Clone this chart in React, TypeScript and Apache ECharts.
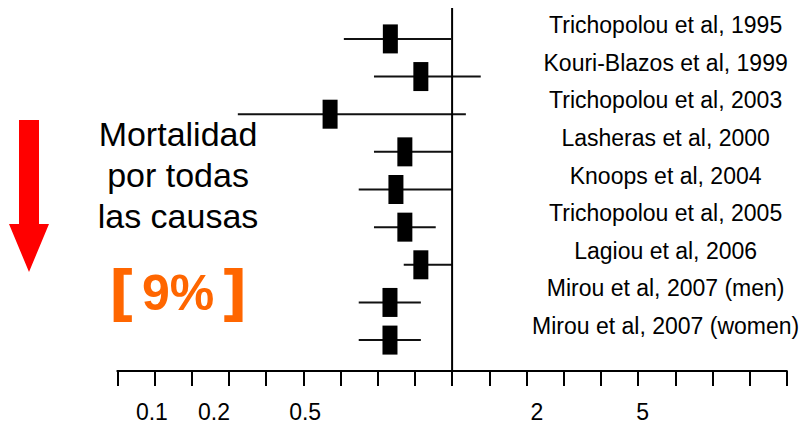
import React, { useEffect, useRef } from 'react';
import * as echarts from 'echarts';

// Studies (top to bottom)
const studies = [
  'Trichopolou et al, 1995',
  'Kouri-Blazos et al, 1999',
  'Trichopolou et al, 2003',
  'Lasheras et al, 2000',
  'Knoops et al, 2004',
  'Trichopolou et al, 2005',
  'Lagiou et al, 2006',
  'Mirou et al, 2007 (men)',
  'Mirou et al, 2007 (women)',
];
// Values expressed in the drawing's axis units (one unit per tick, 19 ticks, RR = 1 at 9)
const estimate = [7.34, 8.16, 5.72, 7.73, 7.49, 7.73, 8.16, 7.33, 7.33];
const lower = [6.09, 6.9, 3.24, 6.9, 6.49, 6.9, 7.7, 6.49, 6.49];
const upper = [8.97, 9.77, 9.37, 9.0, 9.0, 8.56, 9.0, 8.16, 8.16];
const nullValue = 9;
const tickLabels = ['0.1', '0.2', '0.5', '2', '5'];
const tickLabelPositions = [0.93, 2.6, 5.05, 11.28, 14.12];

const Y_MIN = -0.821;
const Y_MAX = 8.821;
const NAME_X = 14.74;

export default function App() {
  const ref = useRef<HTMLDivElement>(null);
  useEffect(() => {
    const chart = echarts.init(ref.current!, null, { renderer: 'svg' });
    const rows = studies.map((_, i) => [lower[i], upper[i], estimate[i], i]);

    const renderItem = (params: any, api: any) => {
      const row = api.value(3);
      const lo = api.coord([api.value(0), row]);
      const hi = api.coord([api.value(1), row]);
      const est = api.coord([api.value(2), row]);
      const nm = api.coord([NAME_X, row]);
      return {
        type: 'group',
        children: [
          {
            type: 'line',
            shape: { x1: lo[0], y1: lo[1], x2: hi[0], y2: hi[1] },
            style: { stroke: '#111', lineWidth: 2 },
          },
          {
            type: 'rect',
            shape: { x: est[0] - 7.5, y: est[1] - 14.5, width: 15, height: 29 },
            style: { fill: '#000' },
          },
          {
            type: 'text',
            style: {
              text: studies[params.dataIndex],
              x: nm[0],
              y: nm[1] - 14,
              align: 'center',
              verticalAlign: 'middle',
              fontSize: 23,
              fontFamily: 'Liberation Sans',
              fill: '#000',
            },
          },
        ],
      };
    };

    chart.setOption({
      animation: false,
      grid: { left: 117.3, right: 18.1, top: 8, bottom: 51 },
      xAxis: {
        type: 'value',
        min: 0,
        max: 18,
        interval: 1,
        axisLine: { show: true, onZero: false, lineStyle: { color: '#000', width: 2 } },
        axisTick: { show: true, length: 15, lineStyle: { color: '#000', width: 2 } },
        splitLine: { show: false },
        axisLabel: {
          customValues: tickLabelPositions,
          formatter: (v: number) => {
            const k = tickLabelPositions.findIndex((p) => Math.abs(p - v) < 1e-6);
            return k >= 0 ? tickLabels[k] : '';
          },
          fontSize: 23,
          fontFamily: 'Liberation Sans',
          color: '#000',
          margin: 29,
        },
      },
      yAxis: { type: 'value', inverse: true, min: Y_MIN, max: Y_MAX, show: false },
      series: [
        {
          type: 'line',
          data: [
            [nullValue, Y_MIN],
            [nullValue, Y_MAX],
          ],
          symbol: 'none',
          lineStyle: { color: '#000', width: 2 },
          silent: true,
        },
        {
          type: 'custom',
          renderItem,
          data: rows,
          encode: { x: [0, 1, 2], y: 3 },
        },
      ],
      graphic: [
        {
          type: 'polygon',
          shape: {
            points: [
              [19, 120],
              [39, 120],
              [39, 224],
              [49, 224],
              [29, 272],
              [9, 224],
              [19, 224],
            ],
          },
          style: { fill: '#ff0000' },
        },
        {
          type: 'text',
          x: 178,
          y: 175,
          style: {
            text: 'Mortalidad\npor todas\nlas causas',
            align: 'center',
            verticalAlign: 'middle',
            fontSize: 34,
            lineHeight: 41,
            fontFamily: 'Liberation Sans',
            fill: '#000',
          },
        },
        {
          type: 'text',
          x: 178,
          y: 293,
          style: {
            text: '{b|[}{n|9%}{b|]}',
            align: 'center',
            verticalAlign: 'middle',
            rich: {
              b: {
                fontSize: 60,
                fontWeight: 'bold',
                fontFamily: 'DejaVu Sans',
                fill: '#ff6600',
                color: '#ff6600',
                padding: [0, 6, 0, 6],
              },
              n: {
                fontSize: 50,
                fontWeight: 'bold',
                fontFamily: 'Liberation Sans',
                fill: '#ff6600',
                color: '#ff6600',
              },
            },
          },
        },
      ],
    });
    return () => chart.dispose();
  }, []);
  return (
    <div
      ref={ref}
      style={{ position: 'absolute', left: 0, top: 0, width: 805, height: 423 }}
    />
  );
}
